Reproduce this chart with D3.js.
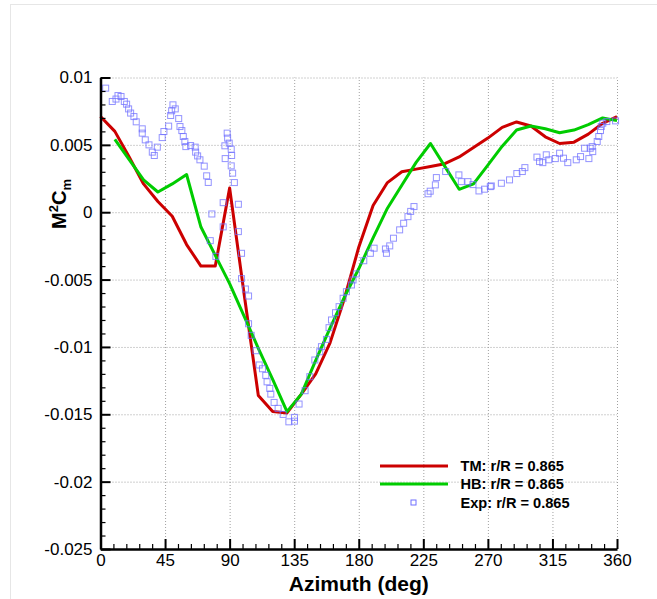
<!DOCTYPE html>
<html>
<head>
<meta charset="utf-8">
<script src="https://cdn.jsdelivr.net/npm/d3@7"></script>
<style>
  body { margin: 0; background: #fff; }
  svg text { font-family: "Liberation Sans", Arial, Helvetica, sans-serif; }
</style>
</head>
<body>
<div id="chart"></div>
<script>
const WIDTH = 657;
const HEIGHT = 599;

// === DATA ===
const azimuthTicks = [0, 45, 90, 135, 180, 225, 270, 315, 360];
const cmTicks = [-0.025, -0.02, -0.015, -0.01, -0.005, 0, 0.005, 0.01];

const seriesNames = ["TM: r/R = 0.865", "HB: r/R = 0.865", "Exp: r/R = 0.865"];

// TM (red)
const tmAzimuth = [0, 10, 20, 30, 40, 50, 60, 70, 80, 90, 100, 110, 120, 130, 140, 150, 160, 170, 180,
    190, 200, 210, 220, 230, 240, 250, 260, 270, 280, 290, 300, 310, 320, 330, 340, 350, 360];
const tmCm = [0.0071, 0.0060, 0.0041, 0.0021, 0.0008, -0.0003, -0.0024, -0.0040, -0.0040, 0.0018,
    -0.0060, -0.0136, -0.0148, -0.0149, -0.0135, -0.0120, -0.0097, -0.0064, -0.0026,
    0.0005, 0.0022, 0.0030, 0.0032, 0.0034, 0.0036, 0.0041, 0.0048, 0.0055, 0.0063, 0.0067,
    0.0064, 0.0056, 0.0051, 0.0052, 0.0058, 0.0066, 0.0071];

// HB (green)
const hbAzimuth = [10, 20, 30, 40, 50, 60, 70, 80, 90, 100, 110, 120, 130, 140, 150, 160, 170, 180,
    190, 200, 210, 220, 230, 240, 250, 260, 270, 280, 290, 300, 310, 320, 330, 340, 350, 360];
const hbCm = [0.0054, 0.0039, 0.0024, 0.0015, 0.0021, 0.0028, -0.0011, -0.0032, -0.0053,
    -0.0077, -0.0101, -0.0124, -0.0148, -0.0135, -0.0110, -0.0086, -0.0063, -0.0042,
    -0.0019, 0.0003, 0.0020, 0.0037, 0.0051, 0.0034, 0.0017, 0.0021, 0.0035, 0.0049, 0.0061,
    0.0064, 0.0062, 0.0059, 0.0061, 0.0065, 0.0070, 0.0068];

// Experiment (squares)
const expAzimuth = [3.6, 8.2, 10.8, 12.2, 14.3, 16.6, 18.2, 19.6, 21.0, 23.3, 24.9, 29.1, 29.1, 31.2,
    33.8, 36.1, 37.5, 39.6, 43.0, 44.2, 47.5, 48.9, 49.6, 50.5, 52.1, 54.5, 55.4, 56.7, 57.7, 58.8,
    59.5, 62.8, 66.0, 66.3, 67.7, 69.3, 72.3, 74.0, 75.1, 76.5, 77.6, 80.4, 85.5, 85.5, 86.7, 86.9,
    88.3, 88.6, 89.7, 91.1, 91.4, 91.1, 92.1, 93.3, 96.1, 96.1, 98.3, 98.3, 101.0, 103.2, 103.2,
    105.0, 108.3, 110.6, 112.9, 115.2, 116.1, 118.0, 118.7, 121.0, 123.8, 127.3, 131.3, 135.2,
    135.2, 138.4, 142.6, 145.9, 149.4, 152.8, 154.0, 157.5, 159.3, 161.0, 163.8, 166.3, 169.1,
    171.4, 174.9, 176.0, 178.3, 183.5, 188.1, 190.7, 198.6, 199.3, 201.6, 204.2, 208.5, 211.3,
    214.3, 216.2, 218.5, 228.3, 229.8, 233.4, 234.1, 240.6, 249.8, 251.5, 256.1, 259.6, 263.8,
    267.7, 271.7, 272.4, 279.4, 285.1, 290.2, 294.0, 295.8, 304.2, 306.0, 308.3, 310.7, 312.5,
    317.0, 320.0, 322.7, 325.7, 331.6, 334.6, 337.4, 340.4, 341.3, 342.7, 343.1, 346.2, 347.3,
    348.5, 349.0, 350.1, 352.9, 359.0];
const expCm = [0.00921, 0.00822, 0.00840, 0.00866, 0.00859, 0.00822, 0.00802, 0.00767, 0.00736,
    0.00710, 0.00671, 0.00619, 0.00587, 0.00537, 0.00500, 0.00446, 0.00421, 0.00483, 0.00554,
    0.00599, 0.00639, 0.00718, 0.00753, 0.00797, 0.00767, 0.00695, 0.00636, 0.00606, 0.00562,
    0.00525, 0.00487, 0.00495, 0.00483, 0.00446, 0.00418, 0.00389, 0.00342, 0.00270, 0.00221,
    -0.00211, -0.00013, -0.00328, 0.00071, -0.00109, 0.00493, 0.00398, 0.00587, 0.00550, 0.00513,
    0.00468, 0.00421, 0.00344, 0.00290, 0.00220, 0.00059, -0.00144, -0.00305, -0.00493, -0.00570,
    -0.00622, -0.00828, -0.00914, -0.01028, -0.01134, -0.01162, -0.01211, -0.01259, -0.01308,
    -0.01350, -0.01412, -0.01456, -0.01501, -0.01556, -0.01523, -0.01551, -0.01424, -0.01325,
    -0.01221, -0.01097, -0.01036, -0.00998, -0.00944, -0.00857, -0.00800, -0.00746, -0.00701,
    -0.00639, -0.00590, -0.00540, -0.00503, -0.00458, -0.00360, -0.00305, -0.00267, -0.00273,
    -0.00305, -0.00250, -0.00193, -0.00131, -0.00082, -0.00033, 0.00006, 0.00042, 0.00137,
    0.00156, 0.00203, 0.00257, 0.00302, 0.00277, 0.00227, 0.00227, 0.00205, 0.00158, 0.00171,
    0.00190, 0.00195, 0.00215, 0.00240, 0.00287, 0.00302, 0.00331, 0.00409, 0.00376, 0.00368,
    0.00426, 0.00389, 0.00398, 0.00438, 0.00401, 0.00368, 0.00389, 0.00413, 0.00475, 0.00398,
    0.00475, 0.00487, 0.00450, 0.00525, 0.00562, 0.00606, 0.00636, 0.00661, 0.00673, 0.00678];

// === LAYOUT ===
const X0 = 100.5, X1 = 617, Y0 = 549, Y1 = 77.5;

const svg = d3.select("#chart")
    .append("svg")
    .attr("width", WIDTH)
    .attr("height", HEIGHT);

// faint page frame
svg.append("rect")
    .attr("x", 10.5).attr("y", 4.5)
    .attr("width", WIDTH).attr("height", HEIGHT)
    .attr("fill", "none")
    .attr("stroke", "#e6e6e6");

const x = d3.scaleLinear().domain([0, 360]).range([X0, X1]);
const y = d3.scaleLinear().domain([-0.025, 0.01]).range([Y0, Y1]);

const fmt = d => String(+d.toFixed(3));

// grid
const gx = svg.append("g")
    .attr("transform", `translate(0,${Y0})`)
    .call(d3.axisBottom(x).tickValues(azimuthTicks).tickSize(-(Y0 - Y1)).tickFormat(""));
const gy = svg.append("g")
    .attr("transform", `translate(${X0},0)`)
    .call(d3.axisLeft(y).tickValues(cmTicks).tickSize(-(X1 - X0)).tickFormat(""));
[gx, gy].forEach(g => {
    g.select(".domain").remove();
    g.selectAll("line")
        .attr("stroke", "#a0a0a0")
        .attr("stroke-width", 1)
        .attr("stroke-dasharray", "1,2");
});

// === LINES ===
const line = d3.line().x(d => x(d[0])).y(d => y(d[1]));

svg.append("path")
    .datum(d3.zip(tmAzimuth, tmCm))
    .attr("fill", "none")
    .attr("stroke", "#cc0000")
    .attr("stroke-width", 3)
    .attr("stroke-linejoin", "round")
    .attr("d", line);

svg.append("path")
    .datum(d3.zip(hbAzimuth, hbCm))
    .attr("fill", "none")
    .attr("stroke", "#00cc00")
    .attr("stroke-width", 3)
    .attr("stroke-linejoin", "round")
    .attr("d", line);

// experiment squares
const SQ = 6;
svg.append("g")
    .selectAll("rect")
    .data(d3.zip(expAzimuth, expCm))
    .join("rect")
    .attr("x", d => x(d[0]) - SQ / 2)
    .attr("y", d => y(d[1]) - SQ / 2)
    .attr("width", SQ)
    .attr("height", SQ)
    .attr("fill", "none")
    .attr("stroke", "#6f6fff")
    .attr("stroke-opacity", 0.75)
    .attr("stroke-width", 1);

// === AXES ===
const minorX = d3.range(0, 361, 9).filter(v => v % 45 !== 0);
const minorY = d3.range(-25, 11, 1).filter(v => v % 5 !== 0).map(v => v / 1000);

function styleAxis(g) {
    g.selectAll("line").attr("stroke", "#000").attr("stroke-width", 2);
    g.selectAll("text")
        .attr("fill", "#000")
        .style("font-size", "17px");
}

const ax = svg.append("g")
    .attr("transform", `translate(0,${Y0})`)
    .call(d3.axisBottom(x).tickValues(azimuthTicks).tickSize(-10).tickSizeOuter(0)
        .tickPadding(5).tickFormat(fmt));
ax.call(styleAxis);
ax.select(".domain").attr("stroke", "#000").attr("stroke-width", 2.5);

const axm = svg.append("g")
    .attr("transform", `translate(0,${Y0})`)
    .call(d3.axisBottom(x).tickValues(minorX).tickSize(-5).tickSizeOuter(0).tickFormat(""));
axm.select(".domain").remove();
axm.selectAll("line").attr("stroke", "#000").attr("stroke-width", 1.2);

const ay = svg.append("g")
    .attr("transform", `translate(${X0},0)`)
    .call(d3.axisLeft(y).tickValues(cmTicks).tickSize(-10).tickSizeOuter(0)
        .tickPadding(8).tickFormat(fmt));
ay.call(styleAxis);
ay.select(".domain").attr("stroke", "#000").attr("stroke-width", 2.5);

const aym = svg.append("g")
    .attr("transform", `translate(${X0},0)`)
    .call(d3.axisLeft(y).tickValues(minorY).tickSize(-5).tickSizeOuter(0).tickFormat(""));
aym.select(".domain").remove();
aym.selectAll("line").attr("stroke", "#000").attr("stroke-width", 1.2);

// axis titles
svg.append("text")
    .attr("x", (X0 + X1) / 2)
    .attr("y", 591)
    .attr("text-anchor", "middle")
    .style("font-size", "21px")
    .style("font-weight", "bold")
    .text("Azimuth (deg)");

const yt = svg.append("text")
    .attr("transform", "translate(66,204) rotate(-90)")
    .attr("text-anchor", "middle")
    .style("font-size", "20px")
    .style("font-weight", "bold");
yt.append("tspan").text("M");
yt.append("tspan").attr("dy", -8).style("font-size", "13px").text("2");
yt.append("tspan").attr("dy", 8).text("C");
yt.append("tspan").attr("dy", 5).style("font-size", "13px").text("m");

// === LEGEND ===
const legY = [466, 484, 502.5];
const legend = svg.append("g");
legend.append("line")
    .attr("x1", 380).attr("x2", 448).attr("y1", legY[0]).attr("y2", legY[0])
    .attr("stroke", "#cc0000").attr("stroke-width", 3);
legend.append("line")
    .attr("x1", 380).attr("x2", 448).attr("y1", legY[1]).attr("y2", legY[1])
    .attr("stroke", "#00cc00").attr("stroke-width", 3);
legend.append("rect")
    .attr("x", 413.5 - 2.5).attr("y", legY[2] - 2.5)
    .attr("width", 5).attr("height", 5)
    .attr("fill", "none")
    .attr("stroke", "#6f6fff")
    .attr("stroke-width", 1);
legend.selectAll("text.leg")
    .data(seriesNames)
    .join("text")
    .attr("class", "leg")
    .attr("x", 460.5)
    .attr("y", (d, i) => legY[i])
    .attr("dy", "0.36em")
    .style("font-size", "14.6px")
    .style("font-weight", "bold")
    .text(d => d);
</script>
</body>
</html>
